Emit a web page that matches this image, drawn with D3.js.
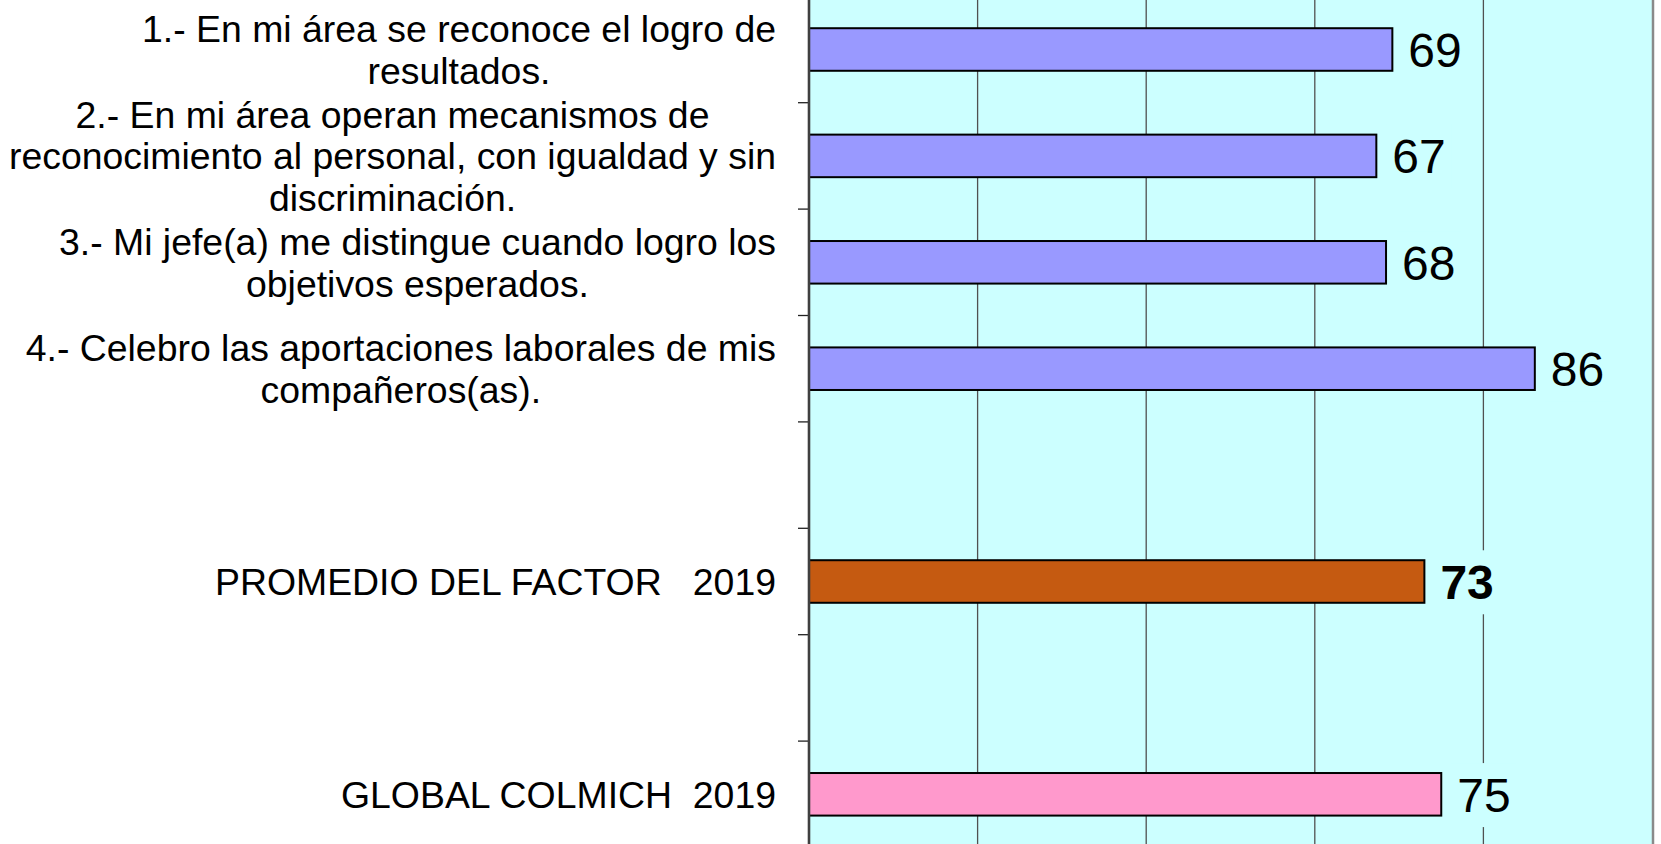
<!DOCTYPE html>
<html>
<head>
<meta charset="utf-8">
<script src="https://cdn.jsdelivr.net/npm/d3@7"></script>
<style>
    body { margin: 0; background: #fff; }
    svg { display: block; font-family: "Liberation Sans", Arial, sans-serif; }
</style>
</head>
<body>
<svg id="chart"></svg>
<script>
// categories, top to bottom (blank rows are spacers in the original chart)
const categories = [
    "1.- En mi área se reconoce el logro de resultados.",
    "2.- En mi área operan mecanismos de reconocimiento al personal, con igualdad y sin discriminación.",
    "3.- Mi jefe(a) me distingue cuando logro los objetivos esperados.",
    "4.- Celebro las aportaciones laborales de mis compañeros(as).",
    "",
    "PROMEDIO DEL FACTOR   2019",
    "",
    "GLOBAL COLMICH  2019"
];
// how the category labels wrap
const labelLines = [
    ["1.- En mi área se reconoce el logro de", "resultados."],
    ["2.- En mi área operan mecanismos de", "reconocimiento al personal, con igualdad y sin", "discriminación."],
    ["3.- Mi jefe(a) me distingue cuando logro los", "objetivos esperados."],
    ["4.- Celebro las aportaciones laborales de mis", "compañeros(as)."],
    [],
    ["PROMEDIO DEL FACTOR   2019"],
    [],
    ["GLOBAL COLMICH  2019"]
];
const values = [69.2, 67.3, 68.45, 86.1, null, 73.0, null, 75.0];
const barColors = ["#9999FF", "#9999FF", "#9999FF", "#9999FF", null, "#C55A11", null, "#FF99CC"];
const boldValue = [false, false, false, false, false, true, false, false];
const xTicks = [0, 20, 40, 60, 80, 100];

const width = 1661, height = 844;
const plot = { left: 809, right: 1652, top: -3.7, bottom: 847.5 };
const labelRight = 776;
const catFont = 37.4, catLine = 41.5, valFont = 48;

const svg = d3.select('#chart')
    .attr('width', width)
    .attr('height', height);

const x = d3.scaleLinear().domain([0, 100]).range([plot.left, plot.right]);
const y = d3.scaleBand().domain(d3.range(categories.length)).range([plot.top, plot.bottom]);
const barH = y.bandwidth() * 0.4;

// plot area background
svg.append('rect')
    .attr('x', plot.left).attr('y', 0)
    .attr('width', plot.right - plot.left).attr('height', height)
    .attr('fill', '#CCFFFF');

// vertical gridlines
svg.append('g').attr('class', 'grid')
    .selectAll('line')
    .data(xTicks.slice(1, -1))
    .join('line')
    .attr('x1', d => x(d)).attr('x2', d => x(d))
    .attr('y1', 0).attr('y2', height)
    .attr('stroke', '#505050')
    .attr('stroke-width', 1.3);

// right border of the plot area
svg.append('line')
    .attr('x1', x(100) + 1).attr('x2', x(100) + 1)
    .attr('y1', 0).attr('y2', height)
    .attr('stroke', '#8a8a8a')
    .attr('stroke-width', 2.5);

// bars
const rows = categories.map((c, i) => ({ i, c, v: values[i], color: barColors[i], bold: boldValue[i] }))
    .filter(d => d.v != null);

svg.append('g').attr('class', 'bars')
    .selectAll('rect')
    .data(rows)
    .join('rect')
    .attr('x', x(0))
    .attr('y', d => y(d.i) + (y.bandwidth() - barH) / 2)
    .attr('width', d => x(d.v) - x(0))
    .attr('height', barH)
    .attr('fill', d => d.color)
    .attr('stroke', '#000')
    .attr('stroke-width', 2);

// category axis: line plus ticks between categories
const axis = svg.append('g').attr('class', 'y-axis');
axis.selectAll('line.tick')
    .data(d3.range(1, categories.length))
    .join('line')
    .attr('class', 'tick')
    .attr('x1', plot.left - 11).attr('x2', plot.left)
    .attr('y1', d => y(d)).attr('y2', d => y(d))
    .attr('stroke', '#222')
    .attr('stroke-width', 1.3);
axis.append('line')
    .attr('x1', plot.left).attr('x2', plot.left)
    .attr('y1', 0).attr('y2', height)
    .attr('stroke', '#404040')
    .attr('stroke-width', 2.6);

// value labels, with a fill behind them that hides the gridlines
const valG = svg.append('g').attr('class', 'values')
    .selectAll('g')
    .data(rows)
    .join('g');
valG.append('text')
    .attr('x', d => x(d.v) + 16)
    .attr('y', d => y(d.i) + y.bandwidth() / 2)
    .attr('dy', '0.36em')
    .attr('font-size', valFont)
    .attr('font-weight', d => d.bold ? 'bold' : 'normal')
    .attr('fill', '#000')
    .text(d => Math.floor(d.v + 0.05));
valG.each(function () {
    const g = d3.select(this);
    const b = g.select('text').node().getBBox();
    g.insert('rect', 'text')
        .attr('x', b.x - 6).attr('y', b.y + b.height / 2 - 32)
        .attr('width', b.width + 12).attr('height', 64)
        .attr('fill', '#CCFFFF');
});

// category labels, each block centred, the widest line ending at labelRight
const catG = svg.append('g').attr('class', 'categories');
labelLines.forEach((lines, i) => {
    if (!lines.length) return;
    const t = catG.append('text')
        .attr('font-size', catFont)
        .attr('text-anchor', 'middle')
        .attr('fill', '#000')
        .style('white-space', 'pre');
    const cy = y(i) + y.bandwidth() / 2;
    lines.forEach((line, k) => {
        t.append('tspan')
            .attr('y', cy + (k - (lines.length - 1) / 2) * catLine)
            .attr('dy', '0.36em')
            .text(line);
    });
    const maxW = d3.max(t.selectAll('tspan').nodes(), n => n.getComputedTextLength());
    t.selectAll('tspan').attr('x', labelRight - maxW / 2);
});
</script>
</body>
</html>
